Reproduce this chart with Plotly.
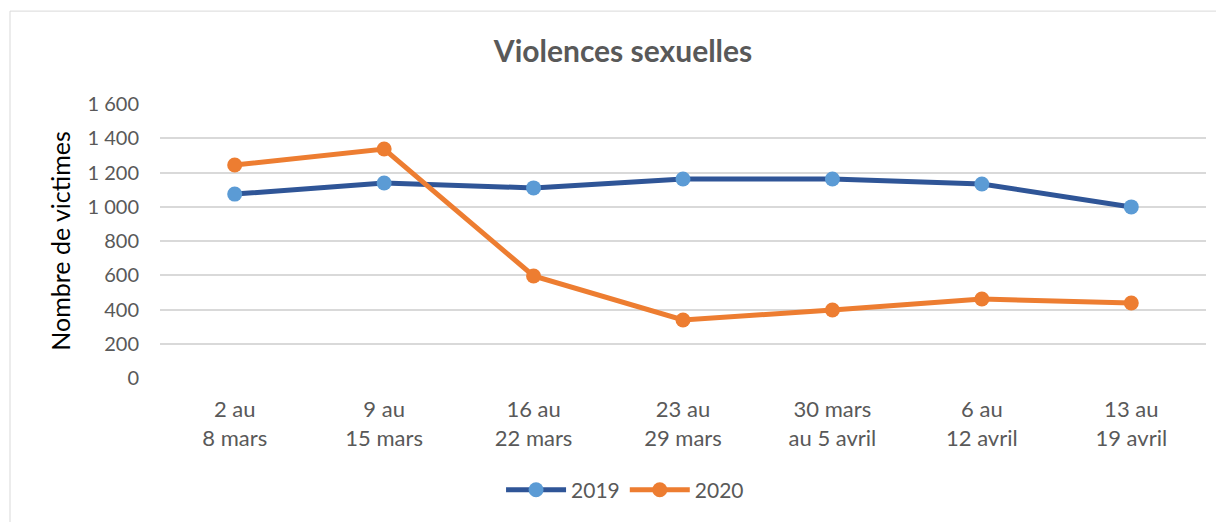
import plotly.graph_objects as go

categories = ["2 au<br>8 mars", "9 au<br>15 mars", "16 au<br>22 mars", "23 au<br>29 mars",
              "30 mars<br>au 5 avril", "6 au<br>12 avril", "13 au<br>19 avril"]
v2019 = [1074, 1139, 1110, 1162, 1162, 1133, 999]
v2020 = [1244, 1337, 596, 339, 397, 461, 438]
series_names = ["2019", "2020"]

FONT = "Lato, 'Open Sans', sans-serif"

fig = go.Figure()
fig.add_trace(go.Scatter(
    x=categories, y=v2019, name=series_names[0], mode="lines+markers",
    line=dict(color="#2F5597", width=5),
    marker=dict(color="#5B9BD5", size=15),
))
fig.add_trace(go.Scatter(
    x=categories, y=v2020, name=series_names[1], mode="lines+markers",
    line=dict(color="#ED7D31", width=5),
    marker=dict(color="#ED7D31", size=15),
))

fig.update_layout(
    width=1216, height=514,
    margin=dict(l=152, r=18, t=96, b=144, autoexpand=False),
    paper_bgcolor="white", plot_bgcolor="white",
    separators=", ",
    font=dict(family=FONT, color="#595959", size=20),
    title=dict(text="<b>Violences sexuelles</b>", x=0.5058, xanchor="center",
               y=0.9144, yanchor="middle", font=dict(size=30, color="#595959", family=FONT)),
    showlegend=True,
    legend=dict(orientation="h", x=0.4446, xanchor="center", y=-0.409, yanchor="middle",
                font=dict(size=21, color="#595959"), itemwidth=60),
    xaxis=dict(range=[-0.5, 6.5], showgrid=False, showline=False, ticks="",
               ticklabelstandoff=16,
               tickfont=dict(size=22, color="#595959")),
    yaxis=dict(range=[0, 1600], dtick=200, tickformat=",d", showgrid=True,
               gridcolor="#D9D9D9", gridwidth=1.5, zeroline=False, showline=False,
               ticks="", ticklabelstandoff=20,
               tickfont=dict(size=20, color="#595959"),
               title=dict(text="Nombre de victimes", font=dict(size=25, color="#000000"), standoff=9)),
    shapes=[dict(type="rect", xref="paper", yref="paper",
                 x0=-0.1434, x1=1.03, y0=-0.7, y1=1.339,
                 line=dict(color="#D9D9D9", width=1), fillcolor="rgba(0,0,0,0)", layer="below")],
)

fig.write_html("out.html")
